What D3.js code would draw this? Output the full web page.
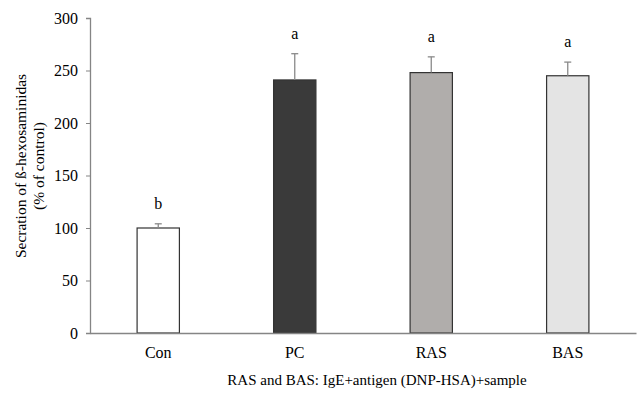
<!DOCTYPE html>
<html>
<head>
<meta charset="utf-8">
<script src="https://cdn.jsdelivr.net/npm/d3@7"></script>
<style>
  body { margin: 0; background: #fff; }
  text { font-family: "Liberation Serif", "Times New Roman", serif; fill: #000; }
</style>
</head>
<body>
<div id="chart"></div>
<script>
const categories = ["Con", "PC", "RAS", "BAS"];
const values = [100, 241, 248, 245];
const errors = [4, 25, 15, 13];
const letters = ["b", "a", "a", "a"];
const fills = ["#ffffff", "#3a3a3a", "#b0adab", "#e4e4e4"];
const yTicks = [0, 50, 100, 150, 200, 250, 300];

const width = 640;
const height = 396;
const margin = { top: 18, right: 4, bottom: 63, left: 90 };

const svg = d3.select("#chart")
  .append("svg")
  .attr("width", width)
  .attr("height", height);

const x = d3.scaleBand()
  .domain(categories)
  .range([margin.left, width - margin.right])
  .paddingInner(0.69)
  .paddingOuter(0.345);

const y = d3.scaleLinear()
  .domain([0, 300])
  .range([height - margin.bottom, margin.top]);

// y axis
const yAxis = svg.append("g")
  .attr("transform", `translate(${margin.left},0)`)
  .call(d3.axisLeft(y).tickValues(yTicks).tickSize(4).tickPadding(8));
yAxis.select(".domain").attr("stroke", "#858585").attr("stroke-width", 1.3);
yAxis.selectAll(".tick line").attr("stroke", "#858585");
yAxis.selectAll(".tick text")
  .style("font-family", "Liberation Serif")
  .style("font-size", "16px");

// bars
svg.selectAll("rect.bar")
  .data(categories)
  .enter()
  .append("rect")
  .attr("class", "bar")
  .attr("x", d => x(d))
  .attr("y", (d, i) => y(values[i]))
  .attr("width", x.bandwidth())
  .attr("height", (d, i) => y(0) - y(values[i]))
  .attr("fill", (d, i) => fills[i])
  .attr("stroke", "#333")
  .attr("stroke-width", 1.2);

// error bars
const err = svg.selectAll("g.err")
  .data(categories)
  .enter()
  .append("g")
  .attr("class", "err");
err.append("line")
  .attr("x1", d => x(d) + x.bandwidth() / 2)
  .attr("x2", d => x(d) + x.bandwidth() / 2)
  .attr("y1", (d, i) => y(values[i]))
  .attr("y2", (d, i) => y(values[i] + errors[i]))
  .attr("stroke", "#8a8a8a")
  .attr("stroke-width", 1.3);
err.append("line")
  .attr("x1", d => x(d) + x.bandwidth() / 2 - 3.5)
  .attr("x2", d => x(d) + x.bandwidth() / 2 + 3.5)
  .attr("y1", (d, i) => y(values[i] + errors[i]))
  .attr("y2", (d, i) => y(values[i] + errors[i]))
  .attr("stroke", "#8a8a8a")
  .attr("stroke-width", 1.3);

// significance letters
svg.selectAll("text.letter")
  .data(categories)
  .enter()
  .append("text")
  .attr("class", "letter")
  .attr("x", d => x(d) + x.bandwidth() / 2)
  .attr("y", (d, i) => y(values[i] + errors[i]) - 15)
  .attr("text-anchor", "middle")
  .style("font-size", "16px")
  .text((d, i) => letters[i]);

// x axis
const xAxis = svg.append("g")
  .attr("transform", `translate(0,${y(0)})`)
  .call(d3.axisBottom(x).tickSize(0).tickPadding(14));
xAxis.select(".domain").attr("stroke", "#858585").attr("stroke-width", 1.3);
xAxis.selectAll(".tick text")
  .style("font-family", "Liberation Serif")
  .style("font-size", "16px");

// caption
svg.append("text")
  .attr("x", 377)
  .attr("y", 385)
  .attr("text-anchor", "middle")
  .style("font-size", "15px")
  .text("RAS and BAS: IgE+antigen (DNP-HSA)+sample");

// y title
const title = svg.append("text")
  .attr("transform", "translate(21,166) rotate(-90)")
  .attr("text-anchor", "middle")
  .style("font-size", "15.5px");
title.append("tspan").attr("x", 0).attr("dy", "0.35em").text("Secration of ß-hexosaminidas");
title.append("tspan").attr("x", 0).attr("dy", "1.15em").text("(% of control)");
</script>
</body>
</html>
